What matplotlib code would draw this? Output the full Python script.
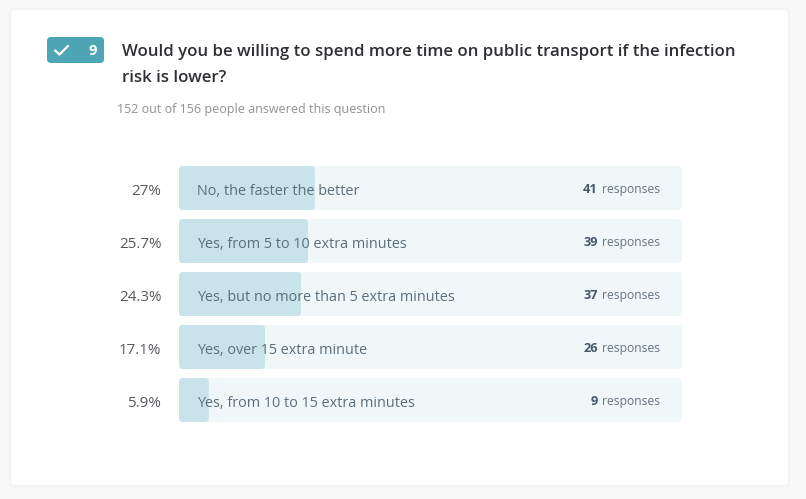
import matplotlib
matplotlib.use("Agg")
import matplotlib.pyplot as plt
from matplotlib.patches import FancyBboxPatch

categories = ["No, the faster the better", "Yes, from 5 to 10 extra minutes",
              "Yes, but no more than 5 extra minutes", "Yes, over 15 extra minute",
              "Yes, from 10 to 15 extra minutes"]
percent_labels = ["27%", "25.7%", "24.3%", "17.1%", "5.9%"]
percent_values = [27, 25.7, 24.3, 17.1, 5.9]
responses = [41, 39, 37, 26, 9]
title_lines = ["Would you be willing to spend more time on public transport if the infection", "risk is lower?"]
subtitle = "152 out of 156 people answered this question"
question_no = "9"

W, H = 806, 499
plt.rcParams['font.family'] = ['Open Sans', 'Noto Sans', 'DejaVu Sans']
fig = plt.figure(figsize=(W/100, H/100), dpi=100, facecolor='#f9f9f9')

bg = fig.add_axes([0, 0, 1, 1])
bg.set_xlim(0, W); bg.set_ylim(H, 0); bg.axis('off')
for grow, a in ((3, .006), (2, .008), (1, .01)):
    bg.add_patch(FancyBboxPatch((11-grow, 10-grow), 777+2*grow, 475+2*grow,
                 boxstyle="round,pad=0,rounding_size=5", fc='k', ec='none', alpha=a))
bg.add_patch(FancyBboxPatch((11, 10), 777, 475, boxstyle="round,pad=0,rounding_size=4", fc='white', ec='none'))

# badge
bg.add_patch(FancyBboxPatch((47, 37), 57, 26, boxstyle="round,pad=0,rounding_size=4", fc='#4ea5b3', ec='none'))
bg.plot([55, 59.5, 68], [50.5, 54.5, 46], color='white', lw=1.6, solid_capstyle='round', solid_joinstyle='round')
bg.text(93, 50.5, question_no, color='white', fontsize=10.5, fontweight='bold', ha='center', va='center')

for line, y in zip(title_lines, (51.5, 77.5)):
    bg.text(121.5, y, line, color='#2d2f33', fontsize=12.1, fontweight='semibold', ha='left', va='center')
bg.text(117, 109, subtitle, color='#8f9193', fontsize=9.0, ha='left', va='center')

# bars
ax = fig.add_axes([179/W, 1-422/H, 503/W, 256/H])
ax.set_xlim(0, 100)
ax.set_ylim(4.415, -0.415)
ax.axis('off')
bar_h = 44/53
ypos = list(range(len(categories)))
xpx, ypx = 5.03, 53.0
r = 4/xpx
aspect = (4/ypx)/r

def rounded(bar):
    clip = FancyBboxPatch((bar.get_x(), bar.get_y()), bar.get_width(), bar.get_height(),
                          boxstyle=f"round,pad=0,rounding_size={r}", mutation_aspect=aspect,
                          transform=ax.transData, fc='none', ec='none')
    ax.add_patch(clip)
    bar.set_clip_path(clip)

tracks = ax.barh(ypos, [100]*5, height=bar_h, color='#eff7f9', zorder=1)
fills = ax.barh(ypos, percent_values, height=bar_h, color='#c8e3e9', zorder=2)
for b in list(tracks) + list(fills):
    rounded(b)

for i, (cat, pl, n) in enumerate(zip(categories, percent_labels, responses)):
    ax.text(3.5, i+0.06, cat, color='#5a6f7c', fontsize=10.4, ha='left', va='center', zorder=3)
    ax.text(-3.5, i+0.06, pl, color='#55585c', fontsize=10.9, ha='right', va='center', clip_on=False)
    t = ax.text(95.6, i+0.03, "responses", color='#66757f', fontsize=8.7, ha='right', va='center', zorder=3)
    ax.annotate(str(n), xy=(0, 0.5), xycoords=t, xytext=(-3, 0), textcoords='offset points',
                color='#44586a', fontsize=9.2, fontweight='bold', ha='right', va='center', zorder=3)

fig.savefig('out.png', dpi=100, facecolor=fig.get_facecolor())
